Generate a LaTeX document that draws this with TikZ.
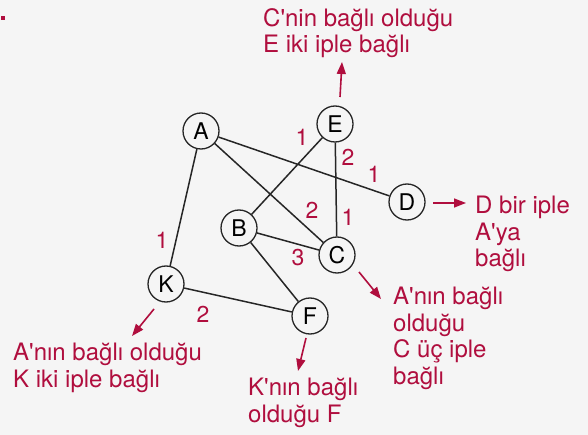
\documentclass[tikz,border=0pt]{standalone}
\usepackage{fontspec}
\setmainfont{TeX Gyre Heros}
\usetikzlibrary{arrows.meta}
\definecolor{ipred}{RGB}{176,14,62}
\definecolor{bggray}{RGB}{245,245,245}
\newcommand{\q}{\textquotesingle}
\begin{document}
\begin{tikzpicture}[x=1pt, y=-1pt,
          knot/.style={circle, draw=black!85, line width=1.3pt, minimum size=36pt, inner sep=0pt, font=\fontsize{23}{23}\selectfont},
          rope/.style={line width=1.5pt, draw=black!85},
          num/.style={text=ipred, inner sep=0pt, font=\fontsize{23}{23}\selectfont},
          note/.style={text=ipred, align=left, inner sep=0pt, anchor=base west, font=\fontsize{24}{26.5}\selectfont},
          arrow/.style={-{Triangle[length=12pt, width=9pt]}, line width=1.6pt, color=ipred}]
        \fill[bggray] (0,0) rectangle (588,435);
        \useasboundingbox (0,0) rectangle (588,435);
        \fill[ipred] (1,16) rectangle (5,20);

        % knots
        \node [knot] (A) at (201,131) {A};
        \node [knot] (E) at (335,124) {E};
        \node [knot] (D) at (407,202) {D};
        \node [knot] (B) at (239,228) {B};
        \node [knot] (C) at (337,255) {C};
        \node [knot] (K) at (166,284) {K};
        \node [knot] (F) at (310,316) {F};

        % ropes
        \draw [rope] (A) -- (K);
        \draw [rope] (A) -- (D);
        \draw [rope] (A) -- (C);
        \draw [rope] (E) -- (B);
        \draw [rope] (E) -- (C);
        \draw [rope] (B) -- (C);
        \draw [rope] (B) -- (F);
        \draw [rope] (K) -- (F);

        % rope counts
        \node [num] (nAK) at (162,240) {1};
        \node [num] (nEB) at (302,137) {1};
        \node [num] (nEC1) at (348,157) {2};
        \node [num] (nAD) at (374,174) {1};
        \node [num] (nAC) at (312,210) {2};
        \node [num] (nEC2) at (348,217) {1};
        \node [num] (nBC) at (298,258) {3};
        \node [num] (nKF) at (203,314) {2};

        % notes
        \node [note] (tE) at (263,53) {C\q nin bağlı olduğu\\E iki iple bağlı};
        \node [note] (tD) at (475,267) {D bir iple\\A\q ya\\bağlı};
        \node [note] (tC) at (393,384) {A\q nın bağlı\\olduğu\\C üç iple\\bağlı};
        \node [note] (tF) at (248,422) {K\q nın bağlı\\olduğu F};
        \node [note] (tK) at (13,387) {A\q nın bağlı olduğu\\K iki iple bağlı};

        \coordinate (eTail) at (340,97);  \coordinate (eTip) at (342,62);
        \coordinate (dTail) at (433,203); \coordinate (dTip) at (466,203);
        \coordinate (cTail) at (359,272); \coordinate (cTip) at (381,299);
        \coordinate (fTail) at (306,338); \coordinate (fTip) at (298,371);
        \coordinate (kTail) at (154,309); \coordinate (kTip) at (132,336);
        \draw [arrow] (eTail) -- (eTip);
        \draw [arrow] (dTail) -- (dTip);
        \draw [arrow] (cTail) -- (cTip);
        \draw [arrow] (fTail) -- (fTip);
        \draw [arrow] (kTail) -- (kTip);
      \end{tikzpicture}
\end{document}
